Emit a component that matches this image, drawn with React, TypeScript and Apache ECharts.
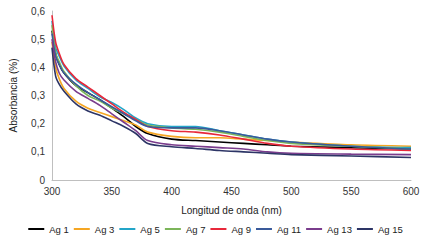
import React, { useEffect, useRef } from "react";
import * as echarts from "echarts";

const wavelengths = [300, 303, 306, 310, 320, 330, 340, 350, 360, 370, 380, 400, 420, 440, 460, 480, 500, 550, 600];

const ag1 = [0.53, 0.45, 0.41, 0.38, 0.335, 0.31, 0.285, 0.255, 0.225, 0.19, 0.165, 0.145, 0.14, 0.135, 0.13, 0.125, 0.12, 0.115, 0.11];
const ag3 = [0.49, 0.4, 0.36, 0.325, 0.28, 0.255, 0.24, 0.225, 0.21, 0.195, 0.17, 0.155, 0.15, 0.15, 0.145, 0.14, 0.135, 0.125, 0.12];
const ag5 = [0.565, 0.47, 0.44, 0.405, 0.355, 0.325, 0.295, 0.275, 0.25, 0.22, 0.2, 0.19, 0.19, 0.175, 0.16, 0.145, 0.135, 0.12, 0.115];
const ag7 = [0.55, 0.45, 0.42, 0.385, 0.335, 0.3, 0.28, 0.255, 0.235, 0.215, 0.195, 0.185, 0.18, 0.17, 0.155, 0.14, 0.13, 0.12, 0.11];
const ag9 = [0.585, 0.49, 0.45, 0.41, 0.36, 0.33, 0.3, 0.27, 0.24, 0.215, 0.19, 0.175, 0.17, 0.16, 0.145, 0.13, 0.12, 0.11, 0.105];
const ag11 = [0.52, 0.44, 0.41, 0.38, 0.34, 0.31, 0.285, 0.26, 0.235, 0.21, 0.19, 0.185, 0.185, 0.175, 0.16, 0.145, 0.135, 0.12, 0.11];
const ag13 = [0.5, 0.42, 0.38, 0.355, 0.315, 0.29, 0.265, 0.235, 0.205, 0.175, 0.14, 0.125, 0.12, 0.115, 0.11, 0.1, 0.095, 0.092, 0.09];
const ag15 = [0.47, 0.37, 0.34, 0.315, 0.27, 0.245, 0.23, 0.21, 0.19, 0.165, 0.13, 0.118, 0.112, 0.105, 0.1, 0.095, 0.09, 0.085, 0.08];

const seriesNames = ["Ag 1", "Ag 3", "Ag 5", "Ag 7", "Ag 9", "Ag 11", "Ag 13", "Ag 15"];
const seriesValues = [ag1, ag3, ag5, ag7, ag9, ag11, ag13, ag15];
const seriesColors = ["#000000", "#f5a623", "#23a5c8", "#7cb55a", "#e8283a", "#3a5a9a", "#7a3c8c", "#2d3566"];

export default function App() {
  const ref = useRef<HTMLDivElement>(null);
  useEffect(() => {
    if (!ref.current) return;
    const chart = echarts.init(ref.current, undefined, { renderer: "svg" });
    const font = "Liberation Sans, Arial, sans-serif";
    chart.setOption({
      animation: false,
      textStyle: { fontFamily: font },
      grid: { left: 47, right: 20, top: 11, bottom: 65 },
      legend: {
        bottom: 11,
        left: "center",
        padding: 0,
        icon: "rect",
        itemWidth: 16,
        itemHeight: 2,
        itemGap: 5,
        textStyle: { fontSize: 9.5, color: "#222", fontFamily: font },
        data: seriesNames,
      },
      xAxis: {
        type: "value",
        min: 300,
        max: 600,
        interval: 50,
        name: "Longitud de onda (nm)",
        nameLocation: "middle",
        nameGap: 25,
        nameTextStyle: { fontSize: 10, color: "#222" },
        axisLine: { lineStyle: { color: "#bfbfbf" } },
        axisTick: { show: false },
        axisLabel: { fontSize: 10, color: "#333", margin: 6 },
        splitLine: { show: false },
      },
      yAxis: {
        type: "value",
        min: 0,
        max: 0.6,
        interval: 0.1,
        name: "Absorbancia (%)",
        nameLocation: "middle",
        nameGap: 34,
        nameTextStyle: { fontSize: 10, color: "#222" },
        axisLine: { show: true, lineStyle: { color: "#bfbfbf" } },
        axisTick: { show: false },
        axisLabel: {
          fontSize: 10,
          color: "#333",
          margin: 7,
          formatter: (v: number) => (Math.round(v * 10) / 10).toString().replace(".", ","),
        },
        splitLine: { show: false },
      },
      series: seriesNames.map((name, i) => ({
        name,
        type: "line",
        showSymbol: false,
        symbol: "none",
        smooth: 0.3,
        color: seriesColors[i],
        lineStyle: { width: 1.6, color: seriesColors[i] },
        data: wavelengths.map((w, j) => [w, seriesValues[i][j]]),
      })),
    });
    return () => chart.dispose();
  }, []);
  return <div ref={ref} style={{ width: 431, height: 245, position: "absolute", left: 0, top: 0 }} />;
}
